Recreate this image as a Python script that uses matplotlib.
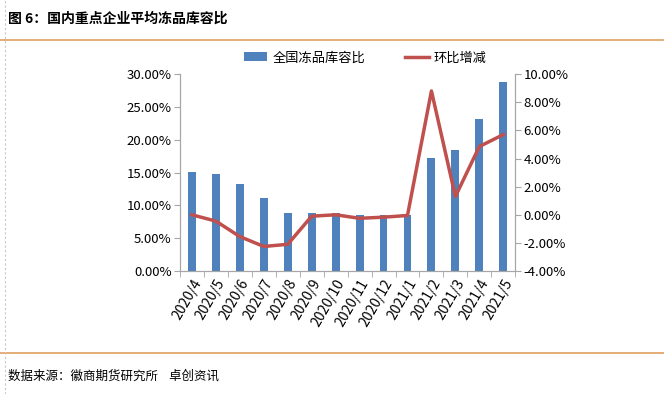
import matplotlib
matplotlib.use("Agg")
import matplotlib.pyplot as plt
import numpy as np
from matplotlib.ticker import FuncFormatter, FixedLocator

plt.rcParams["font.family"] = ["Noto Sans CJK SC", "DejaVu Sans"]

months = ["2020/4", "2020/5", "2020/6", "2020/7", "2020/8", "2020/9", "2020/10",
          "2020/11", "2020/12", "2021/1", "2021/2", "2021/3", "2021/4", "2021/5"]
capacity = [15.1, 14.8, 13.2, 11.1, 8.9, 8.8, 8.8, 8.6, 8.5, 8.5, 17.2, 18.4, 23.2, 28.8]
mom_change = [0.0, -0.45, -1.55, -2.25, -2.1, -0.1, 0.0, -0.25, -0.17, -0.05, 8.8, 1.3, 4.85, 5.7]

BAR = "#4f81bd"
LINE = "#c0504d"
GRID = "#a6a6a6"
RULE = "#e0a060"

fig = plt.figure(figsize=(6.64, 3.94), dpi=100)

# ── title & source ──
fig.text(0.012, 0.952, "图 6：国内重点企业平均冻品库容比", fontsize=10, fontweight="bold",
         va="center", ha="left")
fig.add_artist(plt.Line2D([0.0, 1.0], [0.898, 0.898], color=RULE, linewidth=1.2))
fig.add_artist(plt.Line2D([0.0, 1.0], [0.104, 0.104], color=RULE, linewidth=1.2))
fig.text(0.012, 0.045, "数据来源：徽商期货研究所    卓创资讯", fontsize=9, va="center", ha="left")
fig.add_artist(plt.Line2D([0.008, 0.008], [0.0, 1.0], color="#c8c8c8", linewidth=0.8,
                          linestyle=(0, (2, 2))))

# ── chart ──
ax = fig.add_axes([0.271, 0.312, 0.505, 0.5])
x = np.arange(len(months))
bars = ax.bar(x, capacity, width=0.33, color=BAR, label="全国冻品库容比", zorder=2)
ax.set_ylim(0, 30)
ax.set_xlim(-0.5, len(months) - 0.5)
ax.yaxis.set_major_locator(FixedLocator(np.arange(0, 30.01, 5)))
ax.yaxis.set_major_formatter(FuncFormatter(lambda v, p: f"{v:.2f}%"))
ax.set_xticks(x)
ax.set_xticklabels(months, rotation=60, ha="right", rotation_mode="anchor", fontsize=10)
ax.xaxis.set_minor_locator(FixedLocator(np.arange(-0.5, len(months), 1)))
ax.tick_params(axis="x", which="major", length=0, pad=4)
ax.tick_params(axis="x", which="minor", length=4, color=GRID)
ax.tick_params(axis="y", length=4, color=GRID, labelsize=9.5, pad=2)
ax.spines["top"].set_visible(False)
for s in ["left", "bottom", "right"]:
    ax.spines[s].set_color(GRID)

ax2 = ax.twinx()
line, = ax2.plot(x, mom_change, color=LINE, linewidth=2.5, label="环比增减", zorder=3)
ax2.set_ylim(-4, 10)
ax2.yaxis.set_major_locator(FixedLocator(np.arange(-4, 10.01, 2)))
ax2.yaxis.set_major_formatter(FuncFormatter(lambda v, p: f"{v:.2f}%"))
ax2.tick_params(axis="y", length=4, color=GRID, labelsize=9.5, pad=2)
ax2.spines["top"].set_visible(False)
for s in ["left", "bottom", "right"]:
    ax2.spines[s].set_color(GRID)

fig.legend([bars, line], ["全国冻品库容比", "环比增减"], loc="center",
           bbox_to_anchor=(0.55, 0.853), ncol=2, frameon=False, fontsize=9.5,
           handlelength=1.8, columnspacing=3.0, handletextpad=0.4)

fig.savefig("out.png", dpi=100)
